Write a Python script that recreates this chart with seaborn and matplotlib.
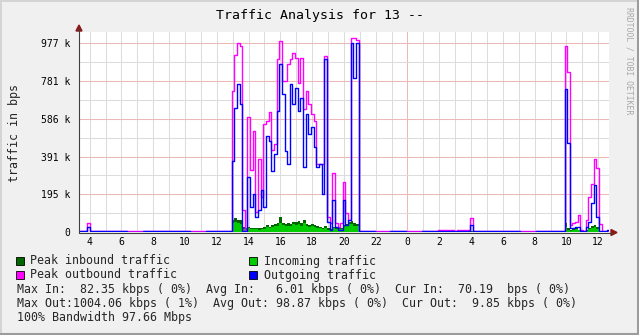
import numpy as np
import matplotlib
matplotlib.use("Agg")
import matplotlib.pyplot as plt
import seaborn as sns
from matplotlib.patches import Rectangle, Polygon
from matplotlib.lines import Line2D

# ---------------- data ----------------
# time segments: start hour (hours since day-1 midnight), step in minutes, count
SEG_START = [3.33, 4.33, 12.93, 20.93, 27.10, 28.10, 33.88, 36.21]
SEG_STEP_MIN = [10, 60, 10, 60, 10, 60, 10, 10]
SEG_COUNT = [6, 9, 48, 7, 6, 6, 14, 3]
T_END = 36.68

# values in k (bits per second / 1024)
peak_out = ([6, 5, 6, 48, 6, 5]
            + [5, 6, 5, 4, 6, 5, 6, 5, 5]
            + [730, 918, 978, 961, 113, 10, 593, 319, 524, 103, 378, 180, 558, 576, 619, 422,
               456, 893, 987, 781, 781, 867, 893, 927, 901, 773, 901, 636, 730, 661, 610, 576,
               353, 353, 353, 910, 80, 45, 303, 45, 27, 45, 258, 96, 62, 1004, 1004, 995]
            + [5, 4, 6, 5, 5, 9, 6]
            + [8, 8, 9, 8, 9, 70]
            + [5, 6, 5, 5, 6, 5]
            + [961, 830, 36, 45, 53, 87, 10, 7, 62, 181, 250, 377, 330, 40]
            + [5, 4, 5])

outgoing = ([3, 3, 3, 27, 3, 3]
            + [3, 3, 2, 3, 3, 3, 2, 3, 3]
            + [370, 644, 764, 661, 5, 4, 285, 130, 199, 79, 113, 216, 130, 498, 473, 318,
               404, 627, 867, 716, 421, 353, 764, 661, 747, 627, 696, 336, 610, 507, 541, 439,
               336, 353, 199, 893, 53, 10, 164, 27, 10, 10, 164, 36, 62, 980, 799, 980]
            + [3, 2, 3, 2, 3, 6, 4]
            + [6, 6, 7, 6, 7, 36]
            + [3, 3, 3, 2, 3, 3]
            + [740, 460, 20, 20, 24, 27, 5, 5, 27, 53, 150, 241, 79, 5]
            + [3, 3, 10])

peak_in = ([1, 1, 1, 2, 1, 1]
           + [1, 1, 1, 1, 1, 1, 1, 1, 1]
           + [62, 70, 62, 62, 27, 19, 27, 19, 19, 19, 19, 19, 24, 36, 27, 36,
              41, 45, 78, 48, 41, 45, 41, 53, 53, 56, 45, 62, 41, 36, 41, 36,
              31, 27, 19, 31, 19, 14, 27, 19, 27, 19, 36, 41, 53, 56, 45, 41]
           + [1, 1, 1, 1, 1, 2, 1]
           + [1, 1, 1, 1, 1, 3]
           + [1, 1, 1, 1, 1, 1]
           + [46, 20, 8, 15, 22, 12, 8, 6, 10, 20, 30, 36, 28, 6]
           + [1, 1, 1])

incoming = ([0.5, 0.5, 0.5, 1, 0.5, 0.5]
            + [0.5, 0.5, 0.5, 0.5, 0.5, 0.5, 0.5, 0.5, 0.5]
            + [44, 50, 46, 42, 18, 12, 20, 14, 13, 15, 12, 14, 17, 26, 20, 27,
               30, 33, 45, 34, 30, 33, 29, 40, 38, 41, 32, 44, 30, 26, 29, 25,
               22, 19, 13, 22, 12, 9, 19, 13, 18, 14, 26, 30, 39, 40, 33, 29]
            + [0.5, 0.5, 0.5, 0.5, 0.5, 0.5, 0.5]
            + [0.5, 0.5, 0.5, 0.5, 0.5, 1]
            + [0.5, 0.5, 0.5, 0.5, 0.5, 0.5]
            + [30, 12, 5, 9, 14, 8, 5, 4, 7, 13, 20, 24, 18, 4]
            + [0.5, 0.5, 0.1])

Y_TICKS = [0, 195.3125, 390.625, 585.9375, 781.25, 976.5625]
Y_TICK_LABELS = ["0", "195 k", "391 k", "586 k", "781 k", "977 k"]
X_TICK_HOURS = [4, 6, 8, 10, 12, 14, 16, 18, 20, 22, 24, 26, 28, 30, 32, 34, 36]
X_TICK_LABELS = ["4", "6", "8", "10", "12", "14", "16", "18", "20", "22",
                 "0", "2", "4", "6", "8", "10", "12"]

TITLE = "Traffic Analysis for 13 --"
Y_LABEL = "traffic in bps"
LEGEND = [("Peak inbound traffic", "#006600"), ("Incoming traffic", "#00cc00"),
          ("Peak outbound traffic", "#ff00ff"), ("Outgoing traffic", "#0000ff")]
STATS = ["Max In:  82.35 kbps ( 0%)  Avg In:   6.01 kbps ( 0%)  Cur In:  70.19  bps ( 0%)",
         "Max Out:1004.06 kbps ( 1%)  Avg Out: 98.87 kbps ( 0%)  Cur Out:  9.85 kbps ( 0%)",
         "100% Bandwidth 97.66 Mbps"]

# ---------------- build ----------------
times = []
for s, st, n in zip(SEG_START, SEG_STEP_MIN, SEG_COUNT):
    times.extend(list(s + np.arange(n) * st / 60.0))
times = np.array(times + [T_END])


def ext(v):
    return np.array(list(v) + [v[-1]], float)


W, H = 639, 335
sns.set_theme(style="white")
plt.rcParams['font.family'] = ['DejaVu Sans Mono', 'DejaVu Sans']


def fx(x):
    return x / W


def fy(y):
    return 1 - y / H


fig = plt.figure(figsize=(W / 100, H / 100), dpi=100, facecolor='#f0f0f0')
ax = fig.add_axes([fx(79), fy(232), (609 - 79) / W, (232 - 32) / H])
ax.set_facecolor('white')
ax.set_xlim(3.33, 36.68)
ax.set_ylim(0, 1035)
for sp in ax.spines.values():
    sp.set_visible(False)

# grid
for h in range(4, 37):
    ax.axvline(h, color='#ecb8b8' if h == 24 else '#dcdcdc', lw=0.75, zorder=0)
for i in range(1, len(Y_TICKS)):
    ax.axhline(Y_TICKS[i], color='#ecb8b8', lw=0.75, zorder=0)
    ax.axhline((Y_TICKS[i] + Y_TICKS[i - 1]) / 2, color='#dcdcdc', lw=0.75, zorder=0)

# data
ax.fill_between(times, ext(peak_in), step='post', color='#006600', lw=0, zorder=2)
ax.fill_between(times, ext(incoming), step='post', color='#00cc00', lw=0, zorder=3)
sns.lineplot(x=times, y=ext(peak_out), ax=ax, color='#ff00ff', lw=1.0,
             drawstyle='steps-post', estimator=None, sort=False, zorder=4)
sns.lineplot(x=times, y=ext(outgoing), ax=ax, color='#0000ff', lw=1.0,
             drawstyle='steps-post', estimator=None, sort=False, zorder=5)

ax.set_xticks(X_TICK_HOURS)
ax.set_xticklabels(X_TICK_LABELS)
ax.set_yticks(Y_TICKS)
ax.set_yticklabels(Y_TICK_LABELS)
ax.tick_params(axis='both', length=0, labelsize=7, colors='black')
ax.tick_params(axis='y', pad=6)
ax.tick_params(axis='x', pad=3.5)
ax.set_xlabel('')
ax.set_ylabel('')
ax.grid(False)

# axes lines with arrows
axis_c = '#404040'
arrow_c = '#8b1a1a'
fig.add_artist(Line2D([fx(79), fx(79)], [fy(232.5), fy(29)], color=axis_c, lw=0.8))
fig.add_artist(Line2D([fx(79), fx(612)], [fy(232.5), fy(232.5)], color=axis_c, lw=0.8))
fig.add_artist(Polygon([[fx(79), fy(25)], [fx(76), fy(31)], [fx(82), fy(31)]],
                       closed=True, color=arrow_c, transform=fig.transFigure))
fig.add_artist(Polygon([[fx(617), fy(232.5)], [fx(611), fy(229.5)], [fx(611), fy(235.5)]],
                       closed=True, color=arrow_c, transform=fig.transFigure))

# texts
fig.text(fx(320), fy(16), TITLE, ha='center', va='center', fontsize=9.5, color='black')
fig.text(fx(15), fy(133), Y_LABEL, ha='center', va='center', rotation=90, fontsize=8.4)
fig.text(fx(628.5), fy(7), "RRDTOOL / TOBI OETIKER", ha='center', va='top',
         rotation=270, fontsize=5.9, color='#a8a8a8')

rows = [261, 261, 275, 275]
sq_x = [16, 249, 16, 249]
for (label, col), ry, sx in zip(LEGEND, rows, sq_x):
    fig.add_artist(Rectangle((fx(sx), fy(ry + 4)), 8 / W, 8 / H, transform=fig.transFigure,
                             facecolor=col, edgecolor='black', lw=0.6))
    fig.text(fx(sx + 14.5), fy(ry), label, ha='left', va='center', fontsize=8.4)

for line, ry in zip(STATS, [289, 303, 317]):
    fig.text(fx(17), fy(ry), line, ha='left', va='center', fontsize=8.4)

# outer frame
fig.add_artist(Line2D([0, 1], [fy(0.5), fy(0.5)], color='#d4d4d4', lw=1.4))
fig.add_artist(Line2D([fx(0.5), fx(0.5)], [0, 1], color='#d4d4d4', lw=1.4))
fig.add_artist(Line2D([fx(637.5), fx(637.5)], [0, 1], color='#9c9c9c', lw=2.2))
fig.add_artist(Line2D([0, 1], [fy(333.5), fy(333.5)], color='#9c9c9c', lw=2.2))

fig.savefig('out.png', dpi=100, facecolor=fig.get_facecolor())
